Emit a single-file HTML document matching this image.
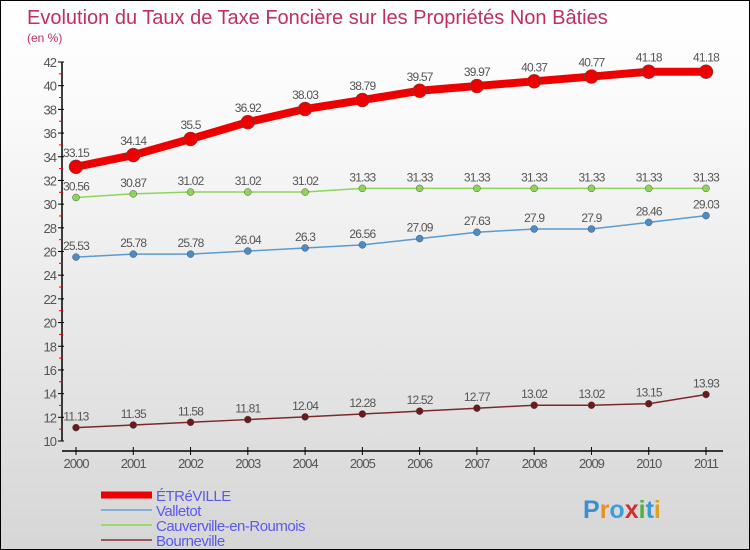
<!DOCTYPE html>
<html><head><meta charset="utf-8"><style>
body{margin:0}
#c{width:750px;height:550px;position:relative;box-sizing:border-box;border:1px solid #000;background:linear-gradient(#fff,#fafafa 20%,#d6d6d6);font-family:"Liberation Sans",sans-serif;overflow:hidden}
svg{position:absolute;left:0;top:0}
</style></head><body>
<div id="c">
<svg id="s" width="750" height="550">
<text x="26" y="23" font-size="20" fill="#c0305f" font-weight="300">Evolution du Taux de Taxe Foncière sur les Propriétés Non Bâties</text>
<text x="26" y="41" font-size="12" fill="#c0305f">(en %)</text>
</svg>
</div>
<script>
const years=[2000,2001,2002,2003,2004,2005,2006,2007,2008,2009,2010,2011];
const etreville=[33.15,34.14,35.5,36.92,38.03,38.79,39.57,39.97,40.37,40.77,41.18,41.18];
const valletot=[25.53,25.78,25.78,26.04,26.3,26.56,27.09,27.63,27.9,27.9,28.46,29.03];
const cauverville=[30.56,30.87,31.02,31.02,31.02,31.33,31.33,31.33,31.33,31.33,31.33,31.33];
const bourneville=[11.13,11.35,11.58,11.81,12.04,12.28,12.52,12.77,13.02,13.02,13.15,13.93];
const yTicks=[10,12,14,16,18,20,22,24,26,28,30,32,34,36,38,40,42];
const seriesNames=["ÉTRéVILLE","Valletot","Cauverville-en-Roumois","Bourneville"];
const NS="http://www.w3.org/2000/svg";
const svg=document.getElementById('s');
const X=i=>75+i*(630/(years.length-1));
const Y=v=>440-(v-10)*(379/32);
function el(t,a,p){const e=document.createElementNS(NS,t);for(const k in a)e.setAttribute(k,a[k]);(p||svg).appendChild(e);return e;}
let ax=el('line',{x1:61,y1:Y(42),x2:61,y2:440,stroke:'#000','stroke-width':1.5});


let xa=el('line',{x1:61,y1:450,x2:722,y2:450,stroke:'#000','stroke-width':1.5});


yTicks.forEach(v=>{
 el('line',{x1:57,y1:Y(v),x2:63,y2:Y(v),stroke:'#000'});
 if(v<42) el('line',{x1:58,y1:Y(v+1),x2:62,y2:Y(v+1),stroke:'#e00'});
 const t=el('text',{x:55,y:Y(v)+5,'font-size':13,'text-anchor':'end',fill:'#555','letter-spacing':'-1'});
 t.textContent=v;
 
 
});
years.forEach((y,i)=>{
 el('line',{x1:X(i),y1:446,x2:X(i),y2:454,stroke:'#000'});
 const t=el('text',{x:X(i),y:467,'font-size':13,'text-anchor':'middle',fill:'#555','letter-spacing':'-1'});
 t.textContent=y;
 
 
});
const series=[
 {d:cauverville,c:'#8ed45a',w:1.5,r:3.5,f:'#8ed45a',n:'cauverville'},
 {d:valletot,c:'#5b9bd0',w:1.5,r:3.5,f:'#4a8cc8',n:'valletot'},
 {d:bourneville,c:'#7a2a2a',w:1.5,r:3.5,f:'#6a1a1a',n:'bourneville'},
 {d:etreville,c:'#ee0000',w:8,r:7,f:'#ee0000',n:'etreville'}];
series.forEach(s=>{
 const p=el('polyline',{points:s.d.map((v,i)=>X(i)+','+Y(v)).join(' '),fill:'none',stroke:s.c,'stroke-width':s.w});
 
 
 s.d.forEach((v,i)=>{
  const c=el('circle',{cx:X(i),cy:Y(v),r:s.r,fill:s.f,stroke:'#555','stroke-width':0.5});
  
  
  const t=el('text',{x:X(i),y:Y(v)-(s.w>5?10:7),'font-size':12,'text-anchor':'middle',fill:'#555','letter-spacing':'-0.8'});
  t.textContent=v;
  
  
 });
});
const lc=['#ee0000','#7fb0d8','#9cd870','#9a5a5a'],lw=[7,2,2,2];
seriesNames.forEach((n,i)=>{
 const y=494+i*15;
 el('line',{x1:100,y1:y,x2:151,y2:y,stroke:lc[i],'stroke-width':lw[i]});
 const t=el('text',{x:155,y:y+6,'font-size':15,fill:'#5a5af0','letter-spacing':'-0.5'});
 t.textContent=n;
 
 
});
const lg=el('text',{x:582,y:517,'font-size':25,'font-weight':'bold',fill:'#3a9ad0'});


const lcols=['#3a8fd0','#e89020','#3aa0d8','#d03030','#50b040','#3a9ad0','#e0a020'];
'Proxiti'.split('').forEach((ch,i)=>{const ts=el('tspan',{fill:lcols[i]},lg);ts.textContent=ch;});
</script>
</body></html>
